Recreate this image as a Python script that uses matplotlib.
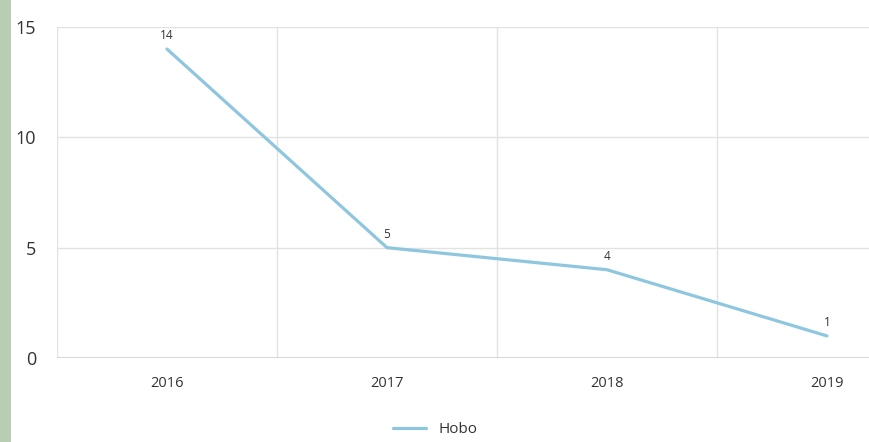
import matplotlib.pyplot as plt
from matplotlib.patches import Rectangle

plt.rcParams['font.family'] = ['Open Sans', 'DejaVu Sans']

# --- Data ---
years = ['2016', '2017', '2018', '2019']
hobo = [14, 5, 4, 1]
y_ticks = [0, 5, 10, 15]

line_color = '#8fc6df'
grid_color = '#e2e2e2'
text_color = '#333333'

fig = plt.figure(figsize=(8.7, 4.42), dpi=100)
fig.patch.set_facecolor('white')

# green strip from the background on the left edge
fig.patches.append(Rectangle((0, 0), 11 / 870, 1, transform=fig.transFigure,
                             facecolor='#b9cdb3', edgecolor='none', zorder=0))

ax = fig.add_axes([57 / 870, 84 / 442, 1 - 57 / 870, 331 / 442])
x = list(range(len(years)))
ax.plot(x, hobo, color=line_color, lw=2.3, solid_capstyle='round', label='Hobo', zorder=3)

for xi, v in zip(x, hobo):
    ax.annotate(str(v), (xi, v), xytext=(0, 5), textcoords='offset points',
                ha='center', va='bottom', fontsize=8.5, color=text_color)

ax.set_xlim(-0.5, -0.5 + (870 - 57) / 220)
ax.set_ylim(0, 15)
ax.set_xticks(x)
ax.set_xticklabels(years)
ax.set_yticks(y_ticks)

# category boundaries as vertical grid lines
for b in [-0.5, 0.5, 1.5, 2.5]:
    ax.axvline(b, color=grid_color, lw=1, zorder=1)
for t in y_ticks[1:]:
    ax.axhline(t, color=grid_color, lw=1, zorder=1)
ax.axhline(0, color='#cfcfcf', lw=1.2, zorder=2)

for s in ax.spines.values():
    s.set_visible(False)
ax.tick_params(axis='x', length=0, pad=13, labelsize=10.5, labelcolor=text_color)
ax.tick_params(axis='y', length=0, pad=15, labelsize=13, labelcolor=text_color)

fig.legend(loc='lower center', bbox_to_anchor=(0.5, -0.02), frameon=False,
           fontsize=11, handlelength=2.2, labelcolor=text_color)

fig.savefig('out.png', dpi=100)
